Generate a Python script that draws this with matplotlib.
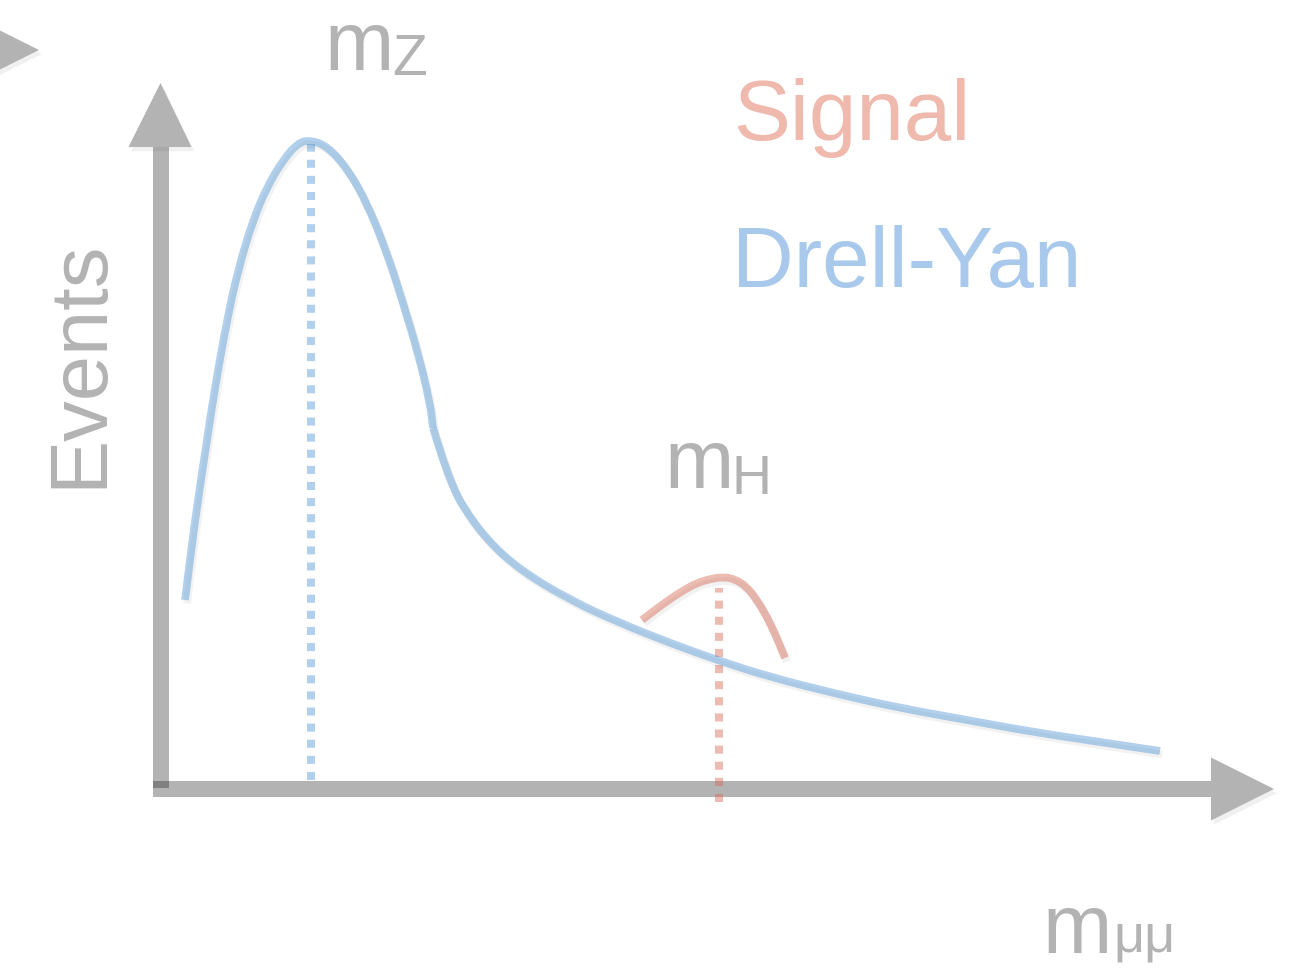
import matplotlib
matplotlib.use("Agg")
import matplotlib.pyplot as plt
from matplotlib.patches import Polygon, Rectangle, PathPatch
from matplotlib.path import Path
import matplotlib.patheffects as pe

# ---- data (mass on x, events on y; axis origin at 0,0) ----
# Drell-Yan: Z-peak part and falling tail
dy_peak_mass = [25, 35, 45, 55, 67, 78, 93, 107, 123, 138, 150, 167, 187, 207, 227, 243, 258, 270, 273]
dy_peak_events = [189, 269, 336, 402, 469, 519, 569, 602, 629, 646, 649, 643, 621, 586, 536, 486, 436, 386, 361]
dy_tail_mass = [273, 283, 293, 303, 327, 360, 410, 460, 510, 560, 610, 677, 740, 807, 873, 940, 1000]
dy_tail_events = [361, 329, 302, 282, 249, 219, 189, 166, 146, 128, 112, 95, 81, 69, 57, 47, 38]

# Higgs signal bump
sig_mass = [482, 495, 510, 524, 537, 550, 563, 575, 587, 597, 607, 616, 625]
sig_events = [169, 179, 190, 199, 206, 210, 212, 210, 202, 189, 172, 153, 131]

# resonance positions
m_z = 151
m_h = 559

BLUE = "#5497d5"
RED = "#d56852"
GRAY = "#b3b3b3"
LINE_ALPHA = 0.45
FONT = "Liberation Sans"

W, H = 1292, 969
fig = plt.figure(figsize=(W / 100, H / 100), dpi=100)
ax = fig.add_axes([0, 0, 1, 1])
ax.set_xlim(-160, W - 160)
ax.set_ylim(789 - H, 789)
ax.axis("off")

line_fx = [pe.SimpleLineShadow(offset=(1.5, -2.5), shadow_color="k", alpha=0.05), pe.Normal()]
patch_fx = [pe.SimplePatchShadow(offset=(2, -3), shadow_rgbFace="k", alpha=0.06), pe.Normal()]


def smooth_curve(xs, ys, color):
    """Smooth path through the sample points using quadratic Bezier segments."""
    pts = list(zip(xs, ys))
    verts = [pts[0]]
    codes = [Path.MOVETO]
    mid0 = ((pts[0][0] + pts[1][0]) / 2, (pts[0][1] + pts[1][1]) / 2)
    verts.append(mid0)
    codes.append(Path.LINETO)
    for i in range(1, len(pts) - 1):
        mid = ((pts[i][0] + pts[i + 1][0]) / 2, (pts[i][1] + pts[i + 1][1]) / 2)
        verts += [pts[i], mid]
        codes += [Path.CURVE3, Path.CURVE3]
    verts.append(pts[-1])
    codes.append(Path.LINETO)
    patch = PathPatch(Path(verts, codes), facecolor="none", edgecolor=color,
                      alpha=LINE_ALPHA, lw=5.6, capstyle="butt", joinstyle="round",
                      zorder=4, path_effects=line_fx)
    ax.add_patch(patch)


# axis shafts (semi-transparent, so the corner overlap is darker)
ax.add_patch(Rectangle((-7, 1), 16, 641, facecolor="#181818", alpha=0.33,
                       edgecolor="none", zorder=2))
ax.add_patch(Rectangle((-7, -8), 1058, 16, facecolor="#181818", alpha=0.33,
                       edgecolor="none", zorder=2))

# arrow heads
heads = [
    [(-31.5, 642), (31.5, 642), (0.5, 706)],      # events axis
    [(1051, 31.5), (1051, -31.5), (1114, 0)],     # mass axis
    [(-184, 770.5), (-184, 707.5), (-121, 739)],  # partial arrow at top left
]
for pts in heads:
    ax.add_patch(Polygon(pts, closed=True, facecolor=GRAY, edgecolor="none",
                         zorder=2, path_effects=patch_fx))

# resonance markers
ax.plot([m_z, m_z], [9, 645], color=BLUE, alpha=LINE_ALPHA, lw=5.8,
        linestyle=(0, (1, 1)), dash_capstyle="butt", zorder=3)
ax.plot([m_h, m_h], [-13, 201], color=RED, alpha=LINE_ALPHA, lw=5.8,
        linestyle=(0, (1, 1)), dash_capstyle="butt", zorder=3)

# curves
smooth_curve(dy_peak_mass, dy_peak_events, BLUE)
smooth_curve(dy_tail_mass, dy_tail_events, BLUE)
smooth_curve(sig_mass, sig_events, RED)

# labels
txt = dict(family=FONT, color=GRAY, ha="left", va="baseline", zorder=5)
ax.text(165, 719, "m", fontsize=60, **txt)
ax.text(232, 714, "Z", fontsize=41, **txt)
ax.text(505, 301, "m", fontsize=60, **txt)
ax.text(571, 295, "H", fontsize=40, **txt)
ax.text(882, -164, "m", fontsize=60, **txt)
ax.text(953, -163, "\u03bc\u03bc", fontsize=39, **txt)
ax.text(-59, 301, "Events", fontsize=58.5, rotation=90, rotation_mode="anchor", **txt)

ax.text(573, 649, "Signal", fontsize=61.5, family=FONT, color="#efb9ad",
        ha="left", va="baseline")
ax.text(572, 502, "Drell-Yan", fontsize=61.5, family=FONT, color="#a9c9ec",
        ha="left", va="baseline")

fig.savefig("out.png", dpi=100, facecolor="white")
